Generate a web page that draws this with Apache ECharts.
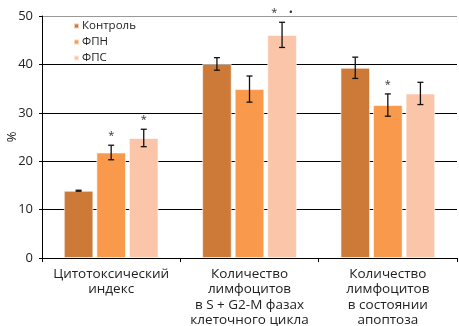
<!DOCTYPE html>
<html><head><meta charset="utf-8">
<script src="https://cdn.jsdelivr.net/npm/echarts@6/dist/echarts.min.js"></script>
<style>html,body{margin:0;padding:0;background:#fff}#c{width:459px;height:326px}</style>
</head><body><div id="c"></div>
<script>
var categories = ['Цитотоксический\nиндекс', 'Количество\nлимфоцитов\nв S + G2-M фазах\nклеточного цикла', 'Количество\nлимфоцитов\nв состоянии\nапоптоза'];
var seriesNames = ['Контроль', 'ФПН', 'ФПС'];
var control = [13.9, 40.1, 39.3];
var fpn = [21.8, 34.9, 31.6];
var fps = [24.8, 46.1, 34.0];
var controlErr = [0.1, 1.3, 2.2];
var fpnErr = [1.5, 2.7, 2.3];
var fpsErr = [1.8, 2.6, 2.3];
var controlSig = ['', '', ''];
var fpnSig = ['*', '', '*'];
var fpsSig = ['*', '*    •', ''];
var yTicks = [0, 10, 20, 30, 40, 50];
var colors = ['#CD7A38', '#F8994B', '#FBC5A9'];

var values = [control, fpn, fps];
var errs = [controlErr, fpnErr, fpsErr];
var sigs = [controlSig, fpnSig, fpsSig];
var GAP = 0.315, BGAP = 0.1;
var font = '"Open Sans", sans-serif';

var errData = [];
for (var s = 0; s < 3; s++) for (var c = 0; c < 3; c++) errData.push([c, values[s][c], errs[s][c], s, sigs[s][c]]);

var chart = echarts.init(document.getElementById('c'));
var series = seriesNames.map(function (n, i) {
  return { name: n, type: 'bar', data: values[i], barCategoryGap: (GAP * 100) + '%', barGap: (BGAP * 100) + '%',
    itemStyle: { color: colors[i], borderColor: 'rgba(255,255,255,0.6)', borderWidth: 1 }, z: 2 };
});
series.push({
  type: 'custom', z: 5, silent: true, data: errData,
  renderItem: function (params, api) {
    var c = api.value(0), v = api.value(1), e = api.value(2), s = api.value(3);
    var sig = errData[params.dataIndex][4];
    var band = api.size([1, 0])[0];
    var bw = band * (1 - GAP) / (3 + 2 * BGAP);
    var off = (s - 1) * bw * (1 + BGAP);
    var top = api.coord([c, v + e]), bot = api.coord([c, v - e]);
    var x = top[0] + off;
    var cap = 3;
    var st = { stroke: '#111', lineWidth: 1.3 };
    var ch = [
      { type: 'line', shape: { x1: x, y1: top[1], x2: x, y2: bot[1] }, style: st },
      { type: 'line', shape: { x1: x - cap, y1: top[1], x2: x + cap, y2: top[1] }, style: st },
      { type: 'line', shape: { x1: x - cap, y1: bot[1], x2: x + cap, y2: bot[1] }, style: st }
    ];
    if (sig) ch.push({ type: 'text', x: x, y: top[1] - 4, style: { text: sig, fill: '#333', font: '11px ' + font, align: 'center', verticalAlign: 'bottom' } });
    return { type: 'group', children: ch };
  }
});

chart.setOption({
  animation: false,
  color: colors,
  textStyle: { fontFamily: font },
  grid: { left: 42, right: 2, top: 16, bottom: 68, containLabel: false, outerBoundsMode: 'none' },
  legend: { data: seriesNames, orient: 'vertical', left: 68, top: 15, icon: 'rect', itemWidth: 5, itemHeight: 5, itemGap: 4,
    textStyle: { fontSize: 11.5, color: '#222', fontFamily: font, padding: [0, 0, 0, -2] } },
  xAxis: { type: 'category', data: categories,
    axisLine: { lineStyle: { color: '#000', width: 1 } },
    axisTick: { show: true, length: 4, lineStyle: { color: '#000' } },
    axisLabel: { fontSize: 13.5, color: '#222', lineHeight: 15.5, margin: 8, interval: 0 } },
  yAxis: { type: 'value', min: 0, max: 50, interval: 10, name: '%', nameLocation: 'middle', nameGap: 23, nameRotate: 90, nameMoveOverlap: false,
    nameTextStyle: { fontSize: 13, color: '#222' },
    axisLine: { show: true, lineStyle: { color: '#000', width: 1 } },
    axisTick: { show: true, length: 3, lineStyle: { color: '#000' } },
    axisLabel: { fontSize: 13, color: '#222', margin: 9, formatter: function (v) { return yTicks.indexOf(v) >= 0 ? String(v) : ''; } },
    splitLine: { show: true, lineStyle: { color: ['#000', '#000', '#000', '#000', '#000', '#999'], width: 1 } } },
  series: series
});
</script></body></html>
